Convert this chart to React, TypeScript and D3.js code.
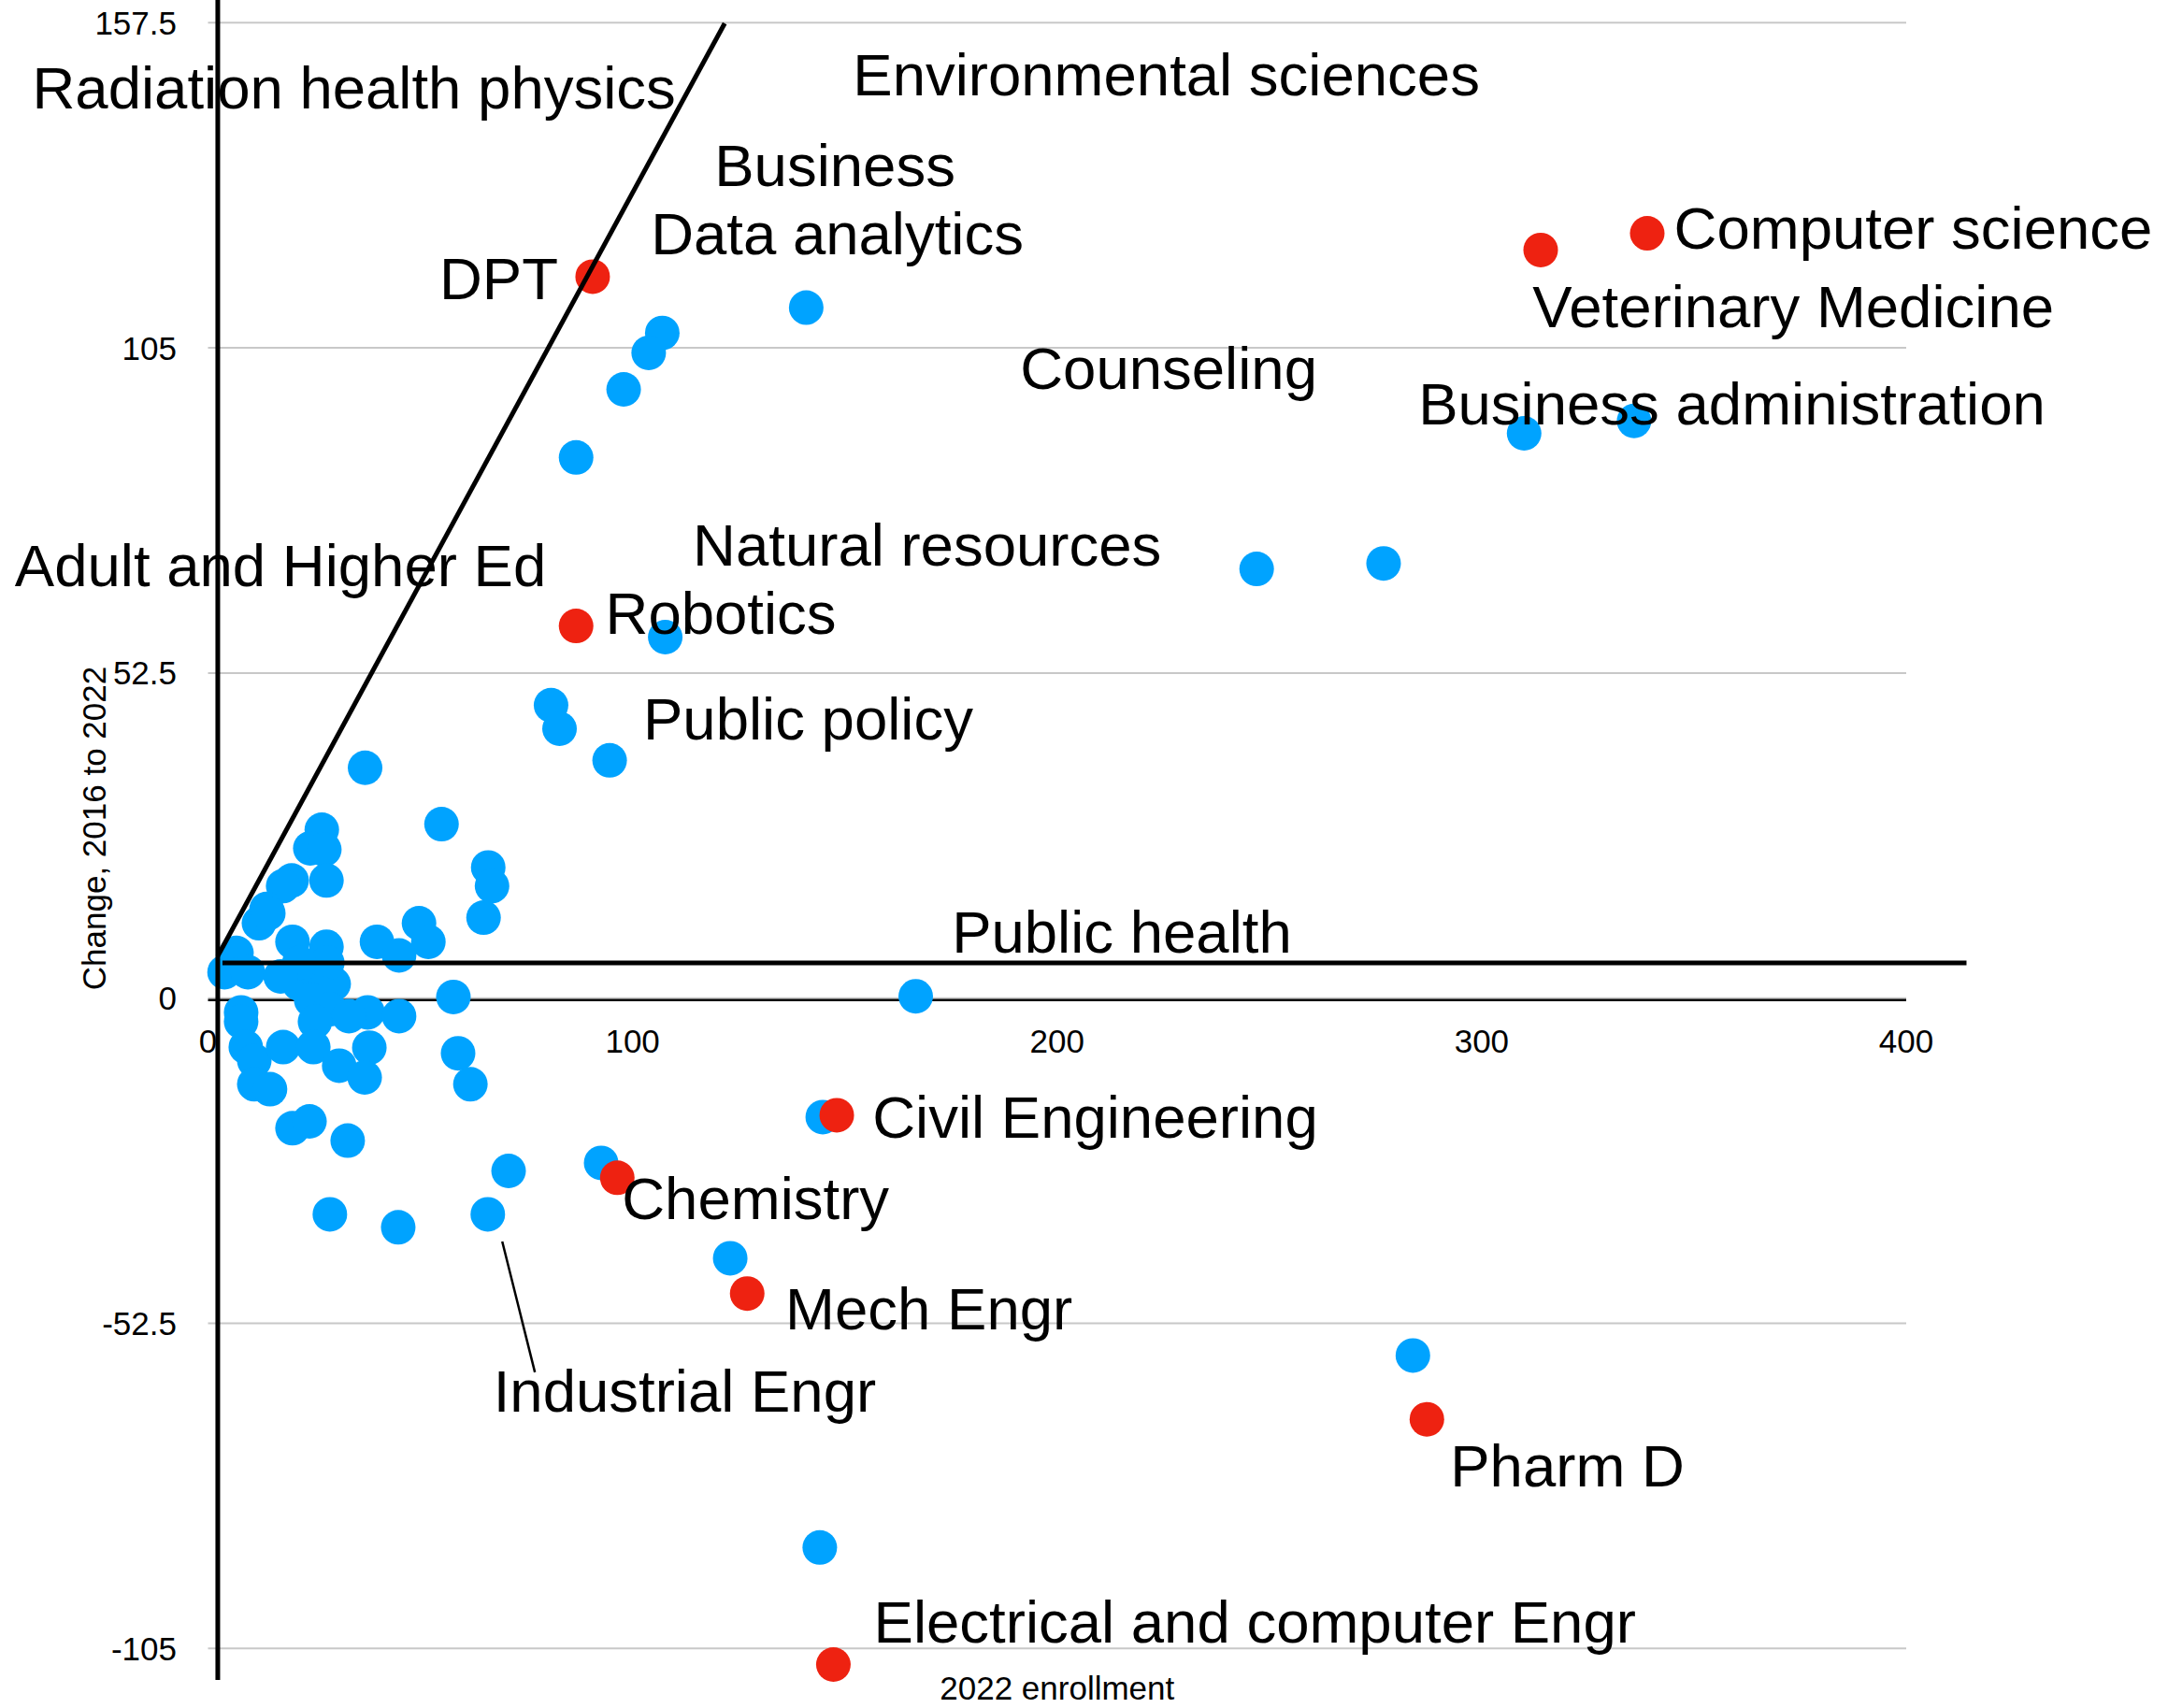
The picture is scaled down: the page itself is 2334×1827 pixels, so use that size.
import React from "react";
import * as d3 from "d3";

// ---- data (2022 enrollment, change 2016 to 2022) ----
const blueX = [140.9,107.0,103.8,97.9,86.7,310.0,335.9,247.0,276.9,107.7,80.8,82.8,94.6,
  37.0,26.8,24.1,27.4,27.9,19.7,17.7,13.8,12.0,14.2,55.0,66.0,66.9,64.9,49.7,51.9,39.8,45.0,19.9,27.9,
  6.7,3.9,9.4,21.5,25.9,29.6,28.1,21.5,17.1,26.5,24.3,28.7,57.8,7.8,7.8,25.2,37.6,45.0,33.2,
  8.9,10.9,17.7,24.8,30.9,38.0,36.9,58.9,61.8,10.9,14.6,19.9,23.9,32.9,70.8,28.7,44.8,65.9,
  92.6,123.0,144.8,166.7,283.8,144.1];
const blueY = [111.5,107.4,104.2,98.3,87.3,91.2,93.2,69.3,70.2,58.3,47.3,43.5,38.4,
  37.2,27.2,24.2,24.0,19.0,19.0,18.1,14.4,12.1,13.7,28.1,21.1,18.1,13.0,12.1,9.1,9.1,6.9,9.1,8.3,
  7.3,4.2,4.2,2.3,3.8,2.3,5.7,5.7,3.5,0.8,-0.3,-1.8,0.2,-2.3,-3.8,-3.8,-2.3,-2.9,-2.9,
  -7.9,-10.1,-7.9,-7.9,-10.9,-8.0,-12.8,-8.9,-13.9,-13.9,-14.7,-21.0,-19.9,-23.0,-27.9,-34.9,-37.0,-34.9,
  -26.6,-42.0,-19.2,0.3,-57.7,-88.7];
const redX = [339.0,313.9,90.6,86.7,148.1,96.4,127.0,287.1,147.3];
const redY = [123.5,120.8,116.5,60.1,-18.9,-29.0,-47.7,-68.0,-107.6];

const xTicks = [0,100,200,300,400];
const yTicks = [157.5,105,52.5,0,-52.5,-105];

const labelText = ["Radiation health physics","Environmental sciences","Business","Data analytics","DPT",
  "Computer science","Veterinary Medicine","Counseling","Business administration","Natural resources",
  "Adult and Higher Ed","Robotics","Public policy","Public health","Civil Engineering","Chemistry",
  "Mech Engr","Industrial Engr","Pharm D","Electrical and computer Engr"];
const labelX = [-41.4,151.9,119.3,104.3,54.5,345.3,312.0,191.3,285.1,114.2,-45.5,93.6,102.5,175.2,156.5,97.5,136.0,67.2,292.6,156.8];
const labelY = [143.7,145.7,131.1,120.1,112.8,121.0,108.3,98.3,92.6,69.9,66.5,58.9,41.8,7.4,-22.5,-35.6,-53.5,-66.8,-78.9,-104.1];

// annotation guide lines in data units
const vLine = [[2.3,161.3],[2.3,-110.1]];
const diagLine = [[2.3,6.8],[121.7,157.4]];
const hLine = [[3.4,5.7],[414.2,5.7]];
const leader = [[69.3,-39.3],[77.0,-60.4]];

const W = 2334, H = 1827;
const FONT = "'Liberation Sans', Arial, Helvetica, sans-serif";
const BLUE = "#00a3ff";
const RED = "#ee2211";

export default function App() {
  const x = d3.scaleLinear().domain([0, 400]).range([222.5, 2039]);
  const y = d3.scaleLinear().domain([-105, 157.5]).range([1763.3, 24.3]);
  const line = d3.line<number[]>().x(d => x(d[0])).y(d => y(d[1]));
  const r = 18.5;
  return (
    <svg width={W} height={H} style={{ position: "absolute", left: 0, top: 0, background: "#fff" }}
      fontFamily={FONT}>
      <rect width={W} height={H} fill="#fff" />
      {yTicks.map(t => (
        <line key={"g" + t} x1={x(0)} x2={x(400)} y1={y(t)} y2={y(t)} stroke="#c8c8c8" strokeWidth={2} />
      ))}
      <line x1={x(0)} x2={x(400)} y1={y(0) + 2} y2={y(0) + 2} stroke="#000" strokeWidth={2.5} />
      {yTicks.map(t => (
        <text key={"yt" + t} x={189} y={y(t)} dy="0.355em" textAnchor="end" fontSize={35}>{String(t)}</text>
      ))}
      {xTicks.map(t => (
        <text key={"xt" + t} x={x(t)} y={1126} textAnchor="middle" fontSize={35}>{String(t)}</text>
      ))}
      <text transform={`translate(113,886) rotate(-90)`} textAnchor="middle" fontSize={35}>Change, 2016 to 2022</text>
      <text x={x(200)} y={1818} textAnchor="middle" fontSize={35}>2022 enrollment</text>

      {blueX.map((v, i) => (
        <circle key={"b" + i} cx={x(v)} cy={y(blueY[i])} r={r} fill={BLUE} />
      ))}
      {redX.map((v, i) => (
        <circle key={"r" + i} cx={x(v)} cy={y(redY[i])} r={r} fill={RED} />
      ))}

      <path d={line(vLine) || ""} stroke="#000" strokeWidth={5} fill="none" />
      <path d={line(diagLine) || ""} stroke="#000" strokeWidth={5} fill="none" />
      <path d={line(hLine) || ""} stroke="#000" strokeWidth={5} fill="none" />
      <path d={line(leader) || ""} stroke="#000" strokeWidth={2.5} fill="none" />

      {labelText.map((t, i) => (
        <text key={"l" + i} x={x(labelX[i])} y={y(labelY[i])} fontSize={63.5} fill="#000">{t}</text>
      ))}
    </svg>
  );
}
